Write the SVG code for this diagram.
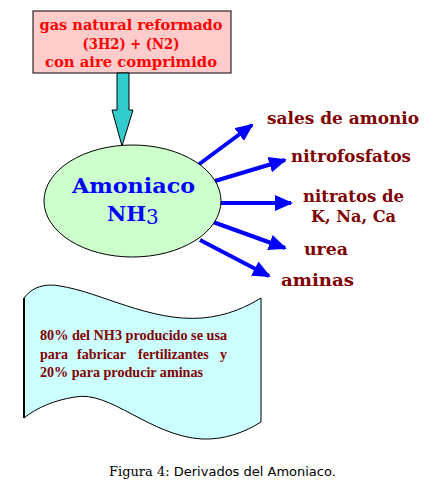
<svg xmlns="http://www.w3.org/2000/svg" width="439" height="492" viewBox="0 0 439 492">
<style>
.top{font-family:"DejaVu Serif","Liberation Serif",serif;font-weight:bold;font-size:15px;fill:#ff0000;text-anchor:middle}
.lbl{font-family:"DejaVu Serif","Liberation Serif",serif;font-weight:bold;font-size:16px;fill:#800000}
.note{font-family:"Liberation Serif",serif;font-weight:bold;font-size:14px;fill:#800000}
.arr{stroke:#0000ff;stroke-width:4;fill:none}
</style>
<defs>
<marker id="ah" markerWidth="4.5" markerHeight="4" refX="4" refY="2" orient="auto" markerUnits="strokeWidth"><path d="M0,0 L4.5,2 L0,4 Z" fill="#0000ff"/></marker>
</defs>
<rect width="439" height="492" fill="#ffffff"/>
<g id="source">
<rect x="33" y="11" width="198" height="62" fill="#ffcccc" stroke="#000" stroke-width="1"/>
<text class="top" x="131" y="30" textLength="183" lengthAdjust="spacingAndGlyphs">gas natural reformado</text>
<text class="top" x="131" y="49" textLength="97" lengthAdjust="spacingAndGlyphs">(3H2) + (N2)</text>
<text class="top" x="131" y="67" textLength="172" lengthAdjust="spacingAndGlyphs">con aire comprimido</text>
</g>
<g id="connectors">
<path d="M117,73 H129 V110 H133 L122,146 L112,110 H117 Z" fill="#33cccc" stroke="#000" stroke-width="1"/>
<line class="arr" x1="198" y1="165" x2="252" y2="125" marker-end="url(#ah)"/>
<line class="arr" x1="215" y1="181" x2="285" y2="160" marker-end="url(#ah)"/>
<line class="arr" x1="220" y1="203" x2="291" y2="203" marker-end="url(#ah)"/>
<line class="arr" x1="213" y1="222" x2="285" y2="248" marker-end="url(#ah)"/>
<line class="arr" x1="200" y1="240" x2="269" y2="276" marker-end="url(#ah)"/>
</g>
<g id="amoniaco">
<ellipse cx="132.5" cy="201" rx="88.5" ry="56" fill="#ccffcc" stroke="#000" stroke-width="1"/>
<text x="72" y="193" font-family="DejaVu Serif,Liberation Serif,serif" font-weight="bold" font-size="21" fill="#0000ff" textLength="123" lengthAdjust="spacingAndGlyphs">Amoniaco</text>
<text x="107" y="221" font-family="DejaVu Serif,Liberation Serif,serif" font-weight="bold" font-size="21" fill="#0000ff">NH<tspan font-weight="normal" font-size="20" dy="3">3</tspan></text>
</g>
<g id="sales"><text class="lbl" x="267" y="124" textLength="152" lengthAdjust="spacingAndGlyphs">sales de amonio</text></g>
<g id="nitrofosfatos"><text class="lbl" x="291" y="162" textLength="120" lengthAdjust="spacingAndGlyphs">nitrofosfatos</text></g>
<g id="nitratos">
<text class="lbl" x="303" y="202" textLength="101" lengthAdjust="spacingAndGlyphs">nitratos de</text>
<text class="lbl" x="311" y="222" textLength="85" lengthAdjust="spacingAndGlyphs">K, Na, Ca</text>
</g>
<g id="urea"><text class="lbl" x="304" y="255" textLength="44" lengthAdjust="spacingAndGlyphs">urea</text></g>
<g id="aminas"><text class="lbl" x="281" y="286" textLength="73" lengthAdjust="spacingAndGlyphs">aminas</text></g>
<g id="nota">
<path d="M24,298 C32,287 45,283 60,286 C100,292 150,322 202,318 C228,316 248,306 261,298 V422 C245,432 225,440 202,439 C150,436 110,390 75,397 C55,400 36,408 24,418 Z" fill="#ccffff" stroke="#000" stroke-width="1"/>
<line x1="24" y1="298" x2="24" y2="418" stroke="#000" stroke-width="2"/>
<text class="note" x="40" y="340" textLength="187" lengthAdjust="spacingAndGlyphs">80% del NH3 producido se usa</text>
<text class="note" y="359"><tspan x="40">para</tspan><tspan x="77">fabricar</tspan><tspan x="138">fertilizantes</tspan><tspan x="220">y</tspan></text>
<text class="note" x="40" y="377" textLength="163" lengthAdjust="spacingAndGlyphs">20% para producir aminas</text>
</g>
<g id="caption">
<text x="109" y="476" font-size="13" fill="#000"><tspan font-family="DejaVu Serif,serif">Figura 4:</tspan><tspan font-family="DejaVu Sans,Liberation Sans,sans-serif"> Derivados del Amoniaco.</tspan></text>
</g>
</svg>
